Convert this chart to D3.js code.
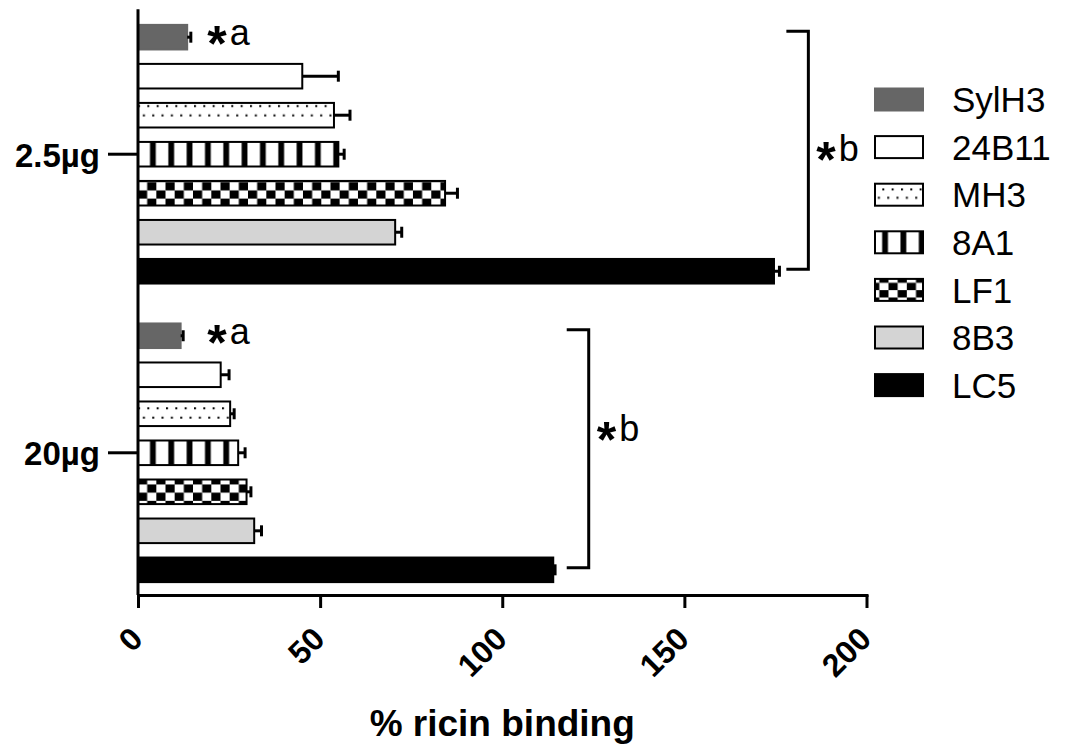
<!DOCTYPE html>
<html>
<head>
<meta charset="utf-8">
<script src="https://cdn.jsdelivr.net/npm/d3@7"></script>
<style>
  body { margin: 0; background: #fff; }
  svg { display: block; font-family: "Liberation Sans", Arial, sans-serif; }
</style>
</head>
<body>
<svg id="chart" width="1071" height="746"></svg>
<script>
// data
const doses = ['2.5µg', '20µg']
const antibodies = ['SylH3', '24B11', 'MH3', '8A1', 'LF1', '8B3', 'LC5']
const binding25 = [13.5, 45.1, 53.8, 55.0, 84.3, 70.6, 174.6]
const error25 = [1.0, 9.9, 4.4, 1.6, 3.4, 1.8, 1.5]
const binding20 = [11.7, 22.7, 25.3, 27.5, 29.8, 31.9, 114.0]
const error20 = [0.7, 2.3, 1.1, 1.9, 1.2, 2.0, 0.5]
const xTicks = [0, 50, 100, 150, 200]
// annotations: "*a" next to SylH3, "*b" bracket around each dose group
const aLabelAt = 19
const bracketAt = [178, 117.7]

const width = 1071
const height = 746
const margin = { top: 12, right: 204.5, bottom: 151, left: 138 }
const axisTop = 9.3

const fills = {
  SylH3: { fill: '#666666', stroke: '#666666' },
  '24B11': { fill: '#ffffff', stroke: '#000' },
  MH3: { pattern: 'dots', stroke: '#000' },
  '8A1': { pattern: 'stripes', stroke: '#000' },
  LF1: { pattern: 'checker', stroke: '#000' },
  '8B3': { fill: '#d4d4d4', stroke: '#000' },
  LC5: { fill: '#000000', stroke: '#000' }
}

const data = doses.map((dose, g) => ({
  dose,
  bars: antibodies.map((name, i) => ({
    name,
    value: g === 0 ? binding25[i] : binding20[i],
    error: g === 0 ? error25[i] : error20[i]
  }))
}))

const svg = d3.select('#chart')
const defs = svg.append('defs')

const x = d3.scaleLinear()
  .domain([0, 200])
  .range([margin.left, width - margin.right])

const yGroup = d3.scaleBand()
  .domain(doses)
  .range([margin.top, height - margin.bottom])
  .paddingInner(0.0854)
  .paddingOuter(0.019)

const yBar = d3.scaleBand()
  .domain(antibodies)
  .range([0, yGroup.bandwidth()])
  .paddingInner(0.37)
  .paddingOuter(0.185)

// one pattern per filled rect so the tiles start at the rect corner
let patternCount = 0
function patternFill(kind, x0, y0, h) {
  const id = `pat${patternCount++}`
  const p = defs.append('pattern')
    .attr('id', id)
    .attr('patternUnits', 'userSpaceOnUse')
    .attr('x', x0)
    .attr('y', y0)
  if (kind === 'dots') {
    p.attr('width', 9.33).attr('height', h)
    p.append('rect').attr('width', 9.33).attr('height', h).attr('fill', '#fff')
    p.append('rect').attr('x', 0).attr('y', h * 0.41 - 1).attr('width', 2).attr('height', 2).attr('fill', '#000')
    p.append('rect').attr('x', 4.9).attr('y', h * 0.79 - 1).attr('width', 2).attr('height', 2).attr('fill', '#000')
  } else if (kind === 'stripes') {
    p.attr('width', 18.33).attr('height', h)
    p.append('rect').attr('width', 18.33).attr('height', h).attr('fill', '#fff')
    p.append('rect').attr('x', 12).attr('width', 5.8).attr('height', h).attr('fill', '#000')
  } else {
    const rh = h / 3
    p.attr('width', 18.33).attr('height', rh * 2)
    p.append('rect').attr('width', 18.33).attr('height', rh * 2).attr('fill', '#fff')
    p.append('rect').attr('x', 9.17).attr('y', 0).attr('width', 9.16).attr('height', rh).attr('fill', '#000')
    p.append('rect').attr('x', 0).attr('y', rh).attr('width', 9.17).attr('height', rh).attr('fill', '#000')
  }
  return `url(#${id})`
}

function fillFor(name, x0, y0, h) {
  const f = fills[name]
  return f.pattern ? patternFill(f.pattern, x0, y0, h) : f.fill
}

// bars
const groups = svg.append('g').attr('class', 'bars')
  .selectAll('g.group')
  .data(data)
  .join('g')
  .attr('class', 'group')
  .attr('transform', d => `translate(0,${yGroup(d.dose)})`)

groups.selectAll('rect.bar')
  .data(d => d.bars.map(b => ({ ...b, dose: d.dose })))
  .join('rect')
  .attr('class', 'bar')
  .attr('x', x(0))
  .attr('y', d => yBar(d.name))
  .attr('width', d => x(d.value) - x(0))
  .attr('height', yBar.bandwidth())
  .attr('fill', d => fillFor(d.name, x(0), yGroup(d.dose) + yBar(d.name), yBar.bandwidth()))
  .attr('stroke', d => fills[d.name].stroke)
  .attr('stroke-width', 2)

// error bars
const err = groups.selectAll('g.err')
  .data(d => d.bars)
  .join('g')
  .attr('class', 'err')
  .attr('transform', d => `translate(0,${yBar(d.name) + yBar.bandwidth() / 2})`)
  .attr('stroke', '#000')
  .attr('stroke-width', 3)

err.append('line')
  .attr('x1', d => x(d.value))
  .attr('x2', d => x(d.value + d.error))
err.append('line')
  .attr('x1', d => x(d.value + d.error))
  .attr('x2', d => x(d.value + d.error))
  .attr('y1', -5.5)
  .attr('y2', 5.5)

// x axis
const xAxis = svg.append('g')
  .attr('transform', `translate(0,${height - margin.bottom})`)
  .call(d3.axisBottom(x).tickValues(xTicks).tickSize(13).tickSizeOuter(0))
xAxis.attr('font-family', null).attr('font-size', null)
xAxis.select('.domain').attr('stroke-width', 3).attr('stroke-linecap', 'square')
xAxis.selectAll('.tick line').attr('stroke-width', 3)
xAxis.selectAll('.tick text')
  .attr('x', 0).attr('y', 0).attr('dy', 0)
  .attr('transform', 'translate(6,46) rotate(-45)')
  .attr('text-anchor', 'end')
  .attr('font-size', 32)
  .attr('font-weight', 'bold')
  .attr('fill', '#000')

// y axis
const yAxis = svg.append('g')
  .attr('transform', `translate(${x(0)},0)`)
  .call(d3.axisLeft(yGroup).tickSize(30).tickPadding(8).tickSizeOuter(0))
yAxis.attr('font-family', null).attr('font-size', null)
yAxis.select('.domain')
  .attr('d', `M0,${axisTop}V${height - margin.bottom}`)
  .attr('stroke-width', 3)
yAxis.selectAll('.tick line').attr('stroke-width', 3)
yAxis.selectAll('.tick text')
  .attr('dy', '0.38em')
  .attr('font-size', 33)
  .attr('font-weight', 'bold')
  .attr('fill', '#000')

svg.append('text')
  .attr('x', (x(0) + x(200)) / 2)
  .attr('y', 736)
  .attr('text-anchor', 'middle')
  .attr('font-size', 37)
  .attr('font-weight', 'bold')
  .text('% ricin binding')

// star label: heavy asterisk sitting at x-height, then the letter
function starLabel(sel, letter) {
  sel.attr('font-size', 36)
  sel.append('tspan')
    .attr('font-size', 50)
    .attr('font-weight', 'bold')
    .attr('dy', 16)
    .text('*')
  sel.append('tspan')
    .attr('dy', -16)
    .attr('dx', 3)
    .text(letter)
}

// "*a" next to the SylH3 bars
groups.append('text')
  .attr('x', x(aLabelAt))
  .attr('y', yBar('SylH3') + yBar.bandwidth() / 2 + 8)
  .call(starLabel, 'a')

// brackets with "*b"
const bShift = [11, -8]
groups.each(function (d, g) {
  const top = yBar('SylH3') + yBar.bandwidth() / 2 - 6
  const bottom = yBar('LC5') + yBar.bandwidth() / 2 - 2
  const x0 = x(bracketAt[g])
  const x1 = x0 + 22
  d3.select(this).append('path')
    .attr('d', `M${x0},${top}H${x1}V${bottom}H${x0}`)
    .attr('fill', 'none')
    .attr('stroke', '#000')
    .attr('stroke-width', 3)
  d3.select(this).append('text')
    .attr('x', x1 + 8)
    .attr('y', (top + bottom) / 2 + bShift[g])
    .call(starLabel, 'b')
})

// legend
const legendStep = 47.6
const legend = svg.append('g')
  .attr('transform', 'translate(875,99.5)')
  .selectAll('g')
  .data(antibodies)
  .join('g')
  .attr('transform', (d, i) => `translate(0,${i * legendStep})`)

legend.append('rect')
  .attr('x', 0)
  .attr('y', -11)
  .attr('width', 48)
  .attr('height', 22)
  .attr('fill', (d, i) => fillFor(d, 875, 99.5 + i * legendStep - 11, 22))
  .attr('stroke', d => fills[d].stroke)
  .attr('stroke-width', 2)

legend.append('text')
  .attr('x', 77)
  .attr('dy', '0.36em')
  .attr('font-size', 35)
  .text(d => d)
</script>
</body>
</html>
